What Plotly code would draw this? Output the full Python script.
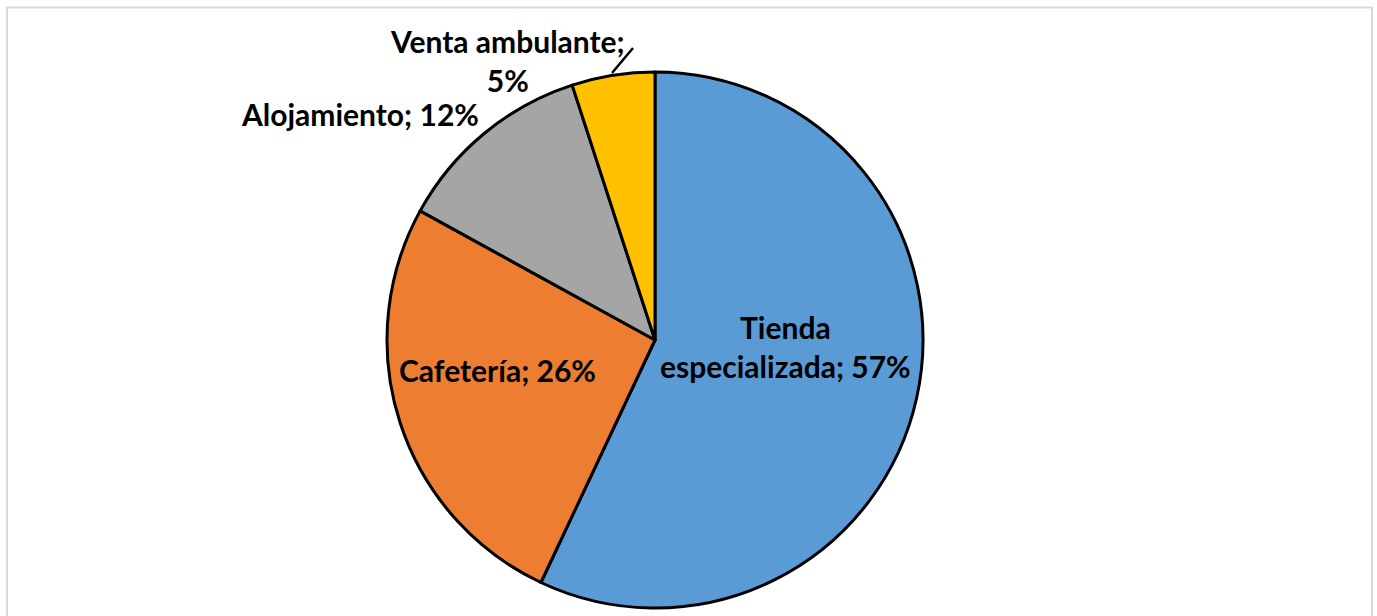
import plotly.graph_objects as go

labels = ["Tienda especializada", "Cafetería", "Alojamiento", "Venta ambulante"]
values = [57, 26, 12, 5]
colors = ["#5B9BD5", "#ED7D31", "#A5A5A5", "#FFC000"]
label_texts = ["Tienda<br>especializada; 57%", "Cafetería; 26%", "Alojamiento; 12%", "Venta ambulante;<br>5%"]
label_px = [(785, 346), (497, 370), (360, 114), (507, 61)]

W, H = 1377, 616
cx, cy, r = 655, 340, 268

fig = go.Figure(go.Pie(
    labels=labels, values=values, sort=False, direction="clockwise", rotation=0,
    marker=dict(colors=colors, line=dict(color="black", width=3)),
    textinfo="none", hoverinfo="label+percent", showlegend=False,
    domain=dict(x=[(cx - r) / W, (cx + r) / W], y=[1 - (cy + r) / H, 1 - (cy - r) / H]),
))

for t, (px, py) in zip(label_texts, label_px):
    fig.add_annotation(x=px / W, y=1 - py / H, xref="paper", yref="paper", text=t,
                       showarrow=False, xanchor="center", yanchor="middle",
                       font=dict(family="Lato", size=30, color="black", weight="bold"))

# leader line for small slice
fig.add_shape(type="line", xref="paper", yref="paper",
              x0=612 / W, y0=1 - 73 / H, x1=633 / W, y1=1 - 48 / H,
              line=dict(color="black", width=2.5))
# chart border
fig.add_shape(type="rect", xref="paper", yref="paper",
              x0=7 / W, y0=-0.05, x1=1372 / W, y1=1 - 7.5 / H,
              line=dict(color="#D9D9D9", width=2))

fig.update_layout(width=W, height=H, margin=dict(l=0, r=0, t=0, b=0),
                  paper_bgcolor="white", plot_bgcolor="white",
                  font=dict(family="Lato"))
fig.write_html("out.html", config={"displayModeBar": False},
               post_script="document.body.style.margin='0px';")
